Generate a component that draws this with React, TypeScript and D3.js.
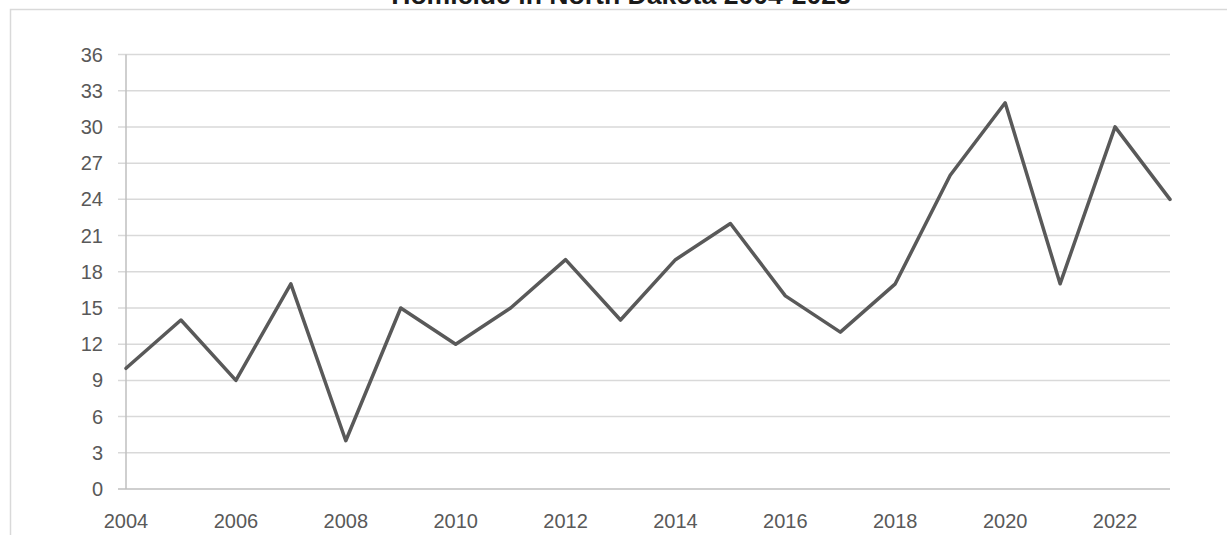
import React from 'react';
import { scaleLinear, line, range } from 'd3';

// data
const years = [2004, 2005, 2006, 2007, 2008, 2009, 2010, 2011, 2012, 2013, 2014, 2015, 2016, 2017, 2018, 2019, 2020, 2021, 2022, 2023];
const homicides = [10, 14, 9, 17, 4, 15, 12, 15, 19, 14, 19, 22, 16, 13, 17, 26, 32, 17, 30, 24];
const yTicks = [0, 3, 6, 9, 12, 15, 18, 21, 24, 27, 30, 33, 36];
const xTickYears = [2004, 2006, 2008, 2010, 2012, 2014, 2016, 2018, 2020, 2022];
const title = 'Homicide in North Dakota 2004-2023';

const width = 1227;
const height = 535;
const margin = { left: 126, right: 57, top: 54.5, bottom: 46 };
const labelFont = '"Liberation Sans", Arial, sans-serif';

export default function App() {
	const x = scaleLinear()
		.domain([2004, 2023])
		.range([margin.left, width - margin.right]);

	const y = scaleLinear()
		.domain([0, 36])
		.range([height - margin.bottom, margin.top]);

	const pts = years.map((yr, i) => ({ yr, v: homicides[i] }));
	const dLine = line<{ yr: number; v: number }>()
		.x(d => x(d.yr))
		.y(d => y(d.v));

	return (
		<svg width={width} height={height} style={{ position: 'absolute', left: 0, top: 0, background: '#fff' }}>
			{/* chart frame, runs off the page on the right and bottom */}
			<rect x={10.5} y={9.5} width={1300} height={600} fill="none" stroke="#d9d9d9" strokeWidth={1.5} />

			<text x={621} y={4} textAnchor="middle" fontFamily={labelFont} fontWeight="bold" fontSize={26.6} fill="#1a1a1a">
				{title}
			</text>

			{/* grid */}
			<g>
				{yTicks.filter(t => t > 0).map(t => (
					<line key={t} x1={margin.left - 8} x2={width - margin.right} y1={y(t)} y2={y(t)} stroke="#d9d9d9" strokeWidth={1.5} />
				))}
			</g>

			{/* axes */}
			<line x1={margin.left} x2={margin.left} y1={y(36)} y2={y(0)} stroke="#bfbfbf" strokeWidth={1.5} />
			<line x1={margin.left - 8} x2={width - margin.right} y1={y(0)} y2={y(0)} stroke="#bfbfbf" strokeWidth={1.5} />

			<g fontFamily={labelFont} fontSize={20} fill="#595959">
				{yTicks.map(t => (
					<text key={t} x={103} y={y(t)} dy="0.35em" textAnchor="end">{t}</text>
				))}
				{xTickYears.map(yr => (
					<text key={yr} x={x(yr)} y={528} textAnchor="middle">{yr}</text>
				))}
			</g>

			<path d={dLine(pts) || ''} fill="none" stroke="#595959" strokeWidth={3.5} strokeLinejoin="round" strokeLinecap="round" />
			{range(0).map(i => <g key={i} />)}
		</svg>
	);
}
